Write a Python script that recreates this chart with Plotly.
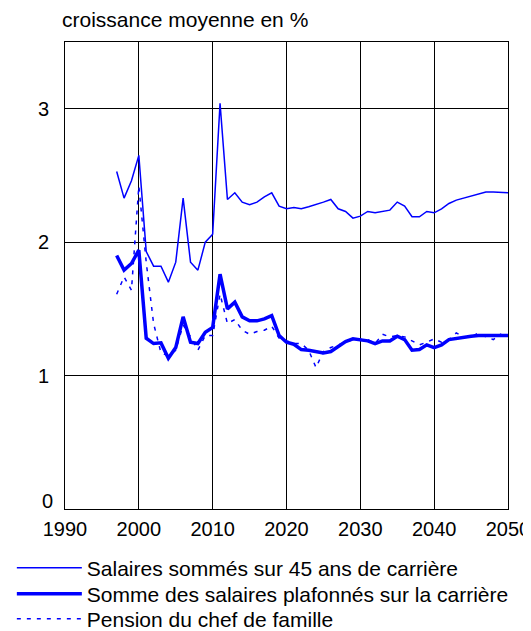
import plotly.graph_objects as go

years = list(range(1997, 2051))

salaires_45 = [2.53, 2.33, 2.46, 2.65, 1.93, 1.82, 1.82, 1.70, 1.85, 2.33,
               1.85, 1.79, 2.00, 2.06, 3.04, 2.32, 2.37, 2.30, 2.28, 2.30,
               2.34, 2.37, 2.27, 2.25, 2.26, 2.25, 2.265, 2.28, 2.30, 2.32,
               2.25, 2.23, 2.18, 2.195, 2.23, 2.22, 2.23, 2.24, 2.30, 2.27,
               2.19, 2.19, 2.23, 2.22, 2.25, 2.29, 2.315, 2.33, 2.35, 2.365,
               2.375, 2.375, 2.375, 2.37]

salaires_plafonnes = [1.90, 1.79, 1.84, 1.94, 1.28, 1.24, 1.245, 1.13, 1.21, 1.44,
                      1.25, 1.24, 1.325, 1.36, 1.76, 1.50, 1.55, 1.44, 1.41, 1.41,
                      1.425, 1.45, 1.30, 1.25, 1.235, 1.195, 1.19, 1.18, 1.17, 1.18,
                      1.215, 1.255, 1.275, 1.27, 1.26, 1.24, 1.26, 1.26, 1.295, 1.27,
                      1.19, 1.195, 1.23, 1.21, 1.23, 1.27, 1.28, 1.29, 1.295, 1.30,
                      1.30, 1.30, 1.30, 1.30]

pension_chef = [1.61, 1.74, 1.64, 2.42, 1.85, 1.39, 1.17, 1.15, 1.19, 1.38,
                1.29, 1.19, 1.30, 1.30, 1.61, 1.39, 1.42, 1.34, 1.31, 1.33,
                1.34, 1.37, 1.28, 1.26, 1.24, 1.24, 1.19, 1.06, 1.18, 1.21,
                1.23, 1.25, 1.27, 1.27, 1.27, 1.24, 1.31, 1.29, 1.30, 1.29,
                1.26, 1.23, 1.25, 1.275, 1.25, 1.27, 1.32, 1.29, 1.29, 1.32,
                1.29, 1.27, 1.31, 1.27]

x_ticks = [1990, 2000, 2010, 2020, 2030, 2040, 2050]
y_ticks = [1, 2, 3]
y_zero_tick = [0]

names = ["Salaires sommés sur 45 ans de carrière",
         "Somme des salaires plafonnés sur la carrière",
         "Pension du chef de famille"]

BLUE = "#0000FF"
FONT = "Liberation Sans, Arial, sans-serif"

fig = go.Figure()
fig.add_trace(go.Scatter(x=years, y=salaires_45, mode="lines", name=names[0],
                         legend="legend",
                         line=dict(color=BLUE, width=1.5)))
fig.add_trace(go.Scatter(x=years, y=salaires_plafonnes, mode="lines", name=names[1],
                         legend="legend2",
                         line=dict(color=BLUE, width=3.5)))
fig.add_trace(go.Scatter(x=years, y=pension_chef, mode="lines", name=names[2],
                         legend="legend3",
                         line=dict(color=BLUE, width=1.5, dash="4px,6px")))
# empty helper trace so the overlay axis carrying the "0" label is drawn
fig.add_trace(go.Scatter(x=[], y=[], yaxis="y2", showlegend=False, hoverinfo="skip"))

leg_common = dict(orientation="v", x=-0.12, xanchor="left", yanchor="middle",
                  itemwidth=65, font=dict(size=21), bgcolor="rgba(0,0,0,0)")

fig.update_layout(
    width=523, height=623,
    margin=dict(l=57, r=23, t=34, b=122, autoexpand=False),
    paper_bgcolor="white", plot_bgcolor="white",
    font=dict(family=FONT, size=20, color="black"),
    showlegend=True,
    legend=dict(y=-0.1263, **leg_common),
    legend2=dict(y=-0.182, **leg_common),
    legend3=dict(y=-0.2355, **leg_common),
    annotations=[dict(text="croissance moyenne en %", xref="paper", yref="paper",
                      x=0, y=1, xanchor="left", yanchor="bottom", yshift=9,
                      xshift=-5, showarrow=False, font=dict(size=21))],
    yaxis2=dict(overlaying="y", side="left", range=[0, 3.5], tickvals=y_zero_tick,
                showgrid=False, zeroline=False, showline=False, ticks="",
                ticklabelstandoff=11, ticklabelshift=-8),
)
fig.update_xaxes(range=[1990, 2050], tickvals=x_ticks, showgrid=True,
                 gridcolor="black", gridwidth=1, showline=True, linecolor="black",
                 linewidth=1, mirror=True, zeroline=False, ticks="", ticklabelstandoff=2)
fig.layout.yaxis.update(range=[0, 3.5], tickvals=y_ticks, showgrid=True,
                        gridcolor="black", gridwidth=1, showline=True,
                        linecolor="black", linewidth=1, mirror=True, zeroline=False,
                        ticks="", ticklabelstandoff=11)

fig.write_html("out.html")
